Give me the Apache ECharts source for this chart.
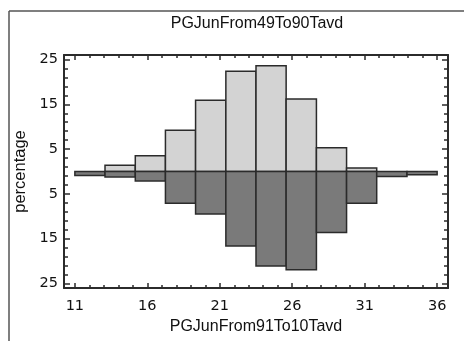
<!DOCTYPE html>
<html>
<head>
<meta charset="utf-8">
<script src="https://cdn.jsdelivr.net/npm/echarts@6/dist/echarts.min.js"></script>
<style>
  html, body { margin: 0; padding: 0; background: #fff; }
  #chart { width: 464px; height: 341px; }
</style>
</head>
<body>
<div id="chart"></div>
<script>
// bin edges (12 bins from 11 to 36)
const binEdges = [11, 13.08, 15.17, 17.25, 19.33, 21.42, 23.5, 25.58, 27.67, 29.75, 31.83, 33.92, 36];
// PGJunFrom49To90Tavd (upper, light)
const upperPct = [0, 1.4, 3.5, 9.2, 15.9, 22.4, 23.6, 16.2, 5.3, 0.8, 0, 0];
// PGJunFrom91To10Tavd (lower, dark)
const lowerPct = [0.9, 1.2, 2.1, 7.1, 9.5, 16.6, 21.1, 21.9, 13.6, 7.1, 1.1, 0.7];

const xMajor = [11, 16, 21, 26, 31, 36];
const xMinor = [11, 12, 13, 14, 15, 16, 17, 18, 19, 20, 21, 22, 23, 24, 25, 26, 27, 28, 29, 30, 31, 32, 33, 34, 35, 36];
const yMajor = [-25, -15, -5, 5, 15, 25];
const yMinor = [-25, -23, -21, -19, -17, -15, -13, -11, -9, -7, -5, -3, -1, 1, 3, 5, 7, 9, 11, 13, 15, 17, 19, 21, 23, 25];

const chart = echarts.init(document.getElementById("chart"));

const lineColor = "#2b2b2b";
const tickFont = { color: "#111", fontFamily: "DejaVu Sans", fontSize: 14.5 };

const xBase = { type: "value", min: 10.25, max: 36.75, splitLine: { show: false } };
const yBase = { type: "value", min: -26, max: 26, splitLine: { show: false } };

const makeBins = (vals, sign) =>
  vals.map((v, i) => [binEdges[i], binEdges[i + 1], sign * v]);

const renderBin = (fill) => (params, api) => {
  const v = api.value(2);
  if (!v) return;
  const p0 = api.coord([api.value(0), 0]);
  const p1 = api.coord([api.value(1), v]);
  return {
    type: "rect",
    shape: {
      x: p0[0],
      y: Math.min(p0[1], p1[1]),
      width: p1[0] - p0[0],
      height: Math.abs(p1[1] - p0[1]),
    },
    style: { fill, stroke: lineColor, lineWidth: 1.5 },
  };
};

chart.setOption({
  animation: false,
  grid: { left: 64, top: 55, right: 16, bottom: 53 },
  graphic: [
    { type: "line", shape: { x1: 9, y1: 11, x2: 9, y2: 341 }, style: { stroke: "#555", lineWidth: 1.5 } },
    { type: "line", shape: { x1: 9, y1: 11, x2: 464, y2: 11 }, style: { stroke: "#555", lineWidth: 1.5 } },
    {
      type: "text",
      x: 257,
      y: 24,
      style: {
        text: "PGJunFrom49To90Tavd",
        align: "center",
        verticalAlign: "middle",
        fontFamily: "Liberation Sans",
        fontSize: 16,
        fill: "#111",
      },
    },
  ],
  xAxis: [
    {
      ...xBase,
      position: "bottom",
      name: "PGJunFrom91To10Tavd",
      nameLocation: "middle",
      nameGap: 28,
      nameTextStyle: { color: "#111", fontFamily: "Liberation Sans", fontSize: 16 },
      axisLine: { show: true, onZero: false, lineStyle: { color: lineColor, width: 2 } },
      axisTick: { inside: true, length: 5, customValues: xMajor, lineStyle: { color: lineColor, width: 1.5 } },
      axisLabel: { customValues: xMajor, margin: 11, ...tickFont },
    },
    {
      ...xBase,
      position: "bottom",
      axisLine: { show: false, onZero: false },
      axisTick: { inside: true, length: 3, customValues: xMinor, lineStyle: { color: lineColor, width: 1.5 } },
      axisLabel: { show: false },
    },
    {
      ...xBase,
      position: "top",
      axisLine: { show: true, onZero: false, lineStyle: { color: lineColor, width: 2 } },
      axisTick: { inside: true, length: 5, customValues: xMajor, lineStyle: { color: lineColor, width: 1.5 } },
      axisLabel: { show: false },
    },
    {
      ...xBase,
      position: "top",
      axisLine: { show: false, onZero: false },
      axisTick: { inside: true, length: 3, customValues: xMinor, lineStyle: { color: lineColor, width: 1.5 } },
      axisLabel: { show: false },
    },
  ],
  yAxis: [
    {
      ...yBase,
      position: "left",
      name: "percentage",
      nameLocation: "middle",
      nameGap: 32,
      nameTextStyle: { color: "#111", fontFamily: "Liberation Sans", fontSize: 16.5 },
      axisLine: { show: true, onZero: false, lineStyle: { color: lineColor, width: 2 } },
      axisTick: { inside: true, length: 6, customValues: yMajor, lineStyle: { color: lineColor, width: 1.5 } },
      axisLabel: { customValues: yMajor, margin: 6, formatter: (v) => String(Math.abs(v)), ...tickFont },
    },
    {
      ...yBase,
      position: "left",
      axisLine: { show: false, onZero: false },
      axisTick: { inside: true, length: 4, customValues: yMinor, lineStyle: { color: lineColor, width: 1.5 } },
      axisLabel: { show: false },
    },
    {
      ...yBase,
      position: "right",
      axisLine: { show: true, onZero: false, lineStyle: { color: lineColor, width: 2 } },
      axisTick: { inside: true, length: 6, customValues: yMajor, lineStyle: { color: lineColor, width: 1.5 } },
      axisLabel: { show: false },
    },
    {
      ...yBase,
      position: "right",
      axisLine: { show: false, onZero: false },
      axisTick: { inside: true, length: 4, customValues: yMinor, lineStyle: { color: lineColor, width: 1.5 } },
      axisLabel: { show: false },
    },
  ],
  series: [
    {
      name: "PGJunFrom49To90Tavd",
      type: "custom",
      xAxisIndex: 0,
      yAxisIndex: 0,
      renderItem: renderBin("#d3d3d3"),
      encode: { x: [0, 1], y: 2 },
      data: makeBins(upperPct, 1),
    },
    {
      name: "PGJunFrom91To10Tavd",
      type: "custom",
      xAxisIndex: 0,
      yAxisIndex: 0,
      renderItem: renderBin("#7a7a7a"),
      encode: { x: [0, 1], y: 2 },
      data: makeBins(lowerPct, -1),
    },
  ],
});
</script>
</body>
</html>
